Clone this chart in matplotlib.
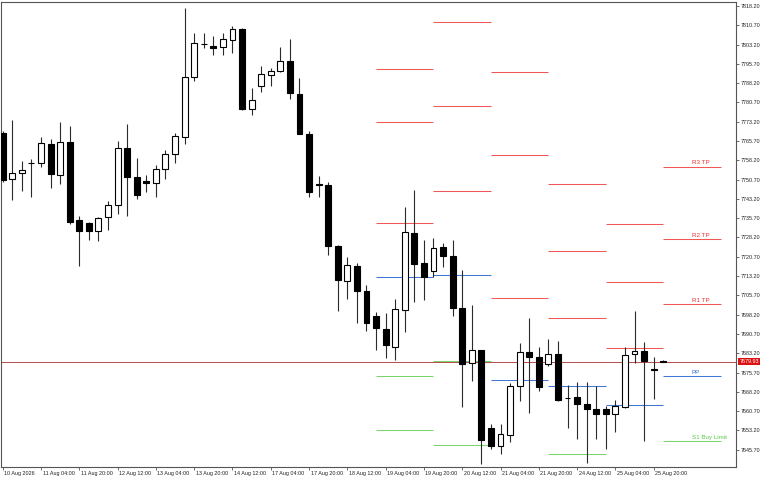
import matplotlib
matplotlib.use("Agg")
import matplotlib.pyplot as plt
import matplotlib.transforms as mtransforms
import numpy as np

plt.rcParams['font.family'] = ['Liberation Sans', 'DejaVu Sans']

# ---- data (4H candles, 10 Aug 2026 12:00 -> 26 Aug 2026 00:00) ----
opens = [7768.70, 7750.82, 7753.15, 7757.20, 7757.27, 7764.54, 7752.61, 7765.44, 7734.88, 7733.94,
         7730.60, 7736.04, 7740.94, 7762.87, 7751.83, 7750.16, 7749.26, 7754.71, 7760.65, 7767.15,
         7790.48, 7803.25, 7802.76, 7802.37, 7805.09, 7809.14, 7778.27, 7787.09, 7791.25, 7792.93,
         7796.93, 7784.10, 7768.55, 7749.11, 7748.60, 7725.00, 7711.39, 7717.11, 7707.39, 7697.67,
         7692.73, 7685.73, 7700.00, 7730.06, 7718.39, 7715.28, 7724.38, 7721.11, 7700.90, 7679.28,
         7684.45, 7654.01, 7647.24, 7651.52, 7670.34, 7683.79, 7681.85, 7678.89, 7682.89, 7665.60,
         7666.06, 7663.34, 7661.39, 7661.51, 7659.45, 7662.41, 7683.01, 7684.06, 7676.95, 7680.10]
highs = [7769.60, 7773.87, 7757.93, 7758.71, 7767.26, 7766.37, 7773.21, 7771.42, 7736.55, 7734.10,
         7736.28, 7742.26, 7765.59, 7772.32, 7759.22, 7752.49, 7756.38, 7762.21, 7768.94, 7817.30,
         7807.58, 7807.58, 7806.53, 7807.58, 7810.42, 7809.64, 7786.20, 7794.75, 7794.09, 7802.14,
         7805.37, 7790.20, 7769.60, 7752.10, 7749.89, 7725.10, 7720.73, 7718.16, 7709.72, 7699.34,
         7698.95, 7704.16, 7739.93, 7746.66, 7727.22, 7727.88, 7726.17, 7727.22, 7715.55, 7701.95,
         7684.60, 7655.56, 7655.56, 7671.50, 7687.05, 7696.77, 7685.73, 7688.61, 7687.95, 7670.84,
         7672.01, 7672.01, 7670.57, 7662.79, 7665.13, 7685.62, 7699.61, 7687.44, 7681.73, 7680.40]
lows = [7749.77, 7742.77, 7746.39, 7744.05, 7755.72, 7747.32, 7749.11, 7733.32, 7717.11, 7727.10,
        7726.83, 7731.11, 7737.44, 7736.67, 7743.04, 7745.88, 7743.82, 7750.93, 7757.04, 7764.54,
        7789.15, 7801.75, 7799.15, 7799.15, 7800.04, 7777.76, 7775.70, 7784.88, 7787.09, 7792.42,
        7782.16, 7768.31, 7744.05, 7744.05, 7721.39, 7699.61, 7704.16, 7695.06, 7692.03, 7684.45,
        7681.34, 7680.45, 7691.56, 7703.00, 7703.89, 7712.95, 7716.84, 7697.67, 7662.41, 7672.40,
        7640.13, 7645.84, 7644.01, 7648.68, 7664.74, 7659.84, 7668.63, 7678.23, 7664.74, 7654.01,
        7649.96, 7640.63, 7650.04, 7646.15, 7652.69, 7661.78, 7679.28, 7649.19, 7665.40, 7679.60]
closes = [7750.55, 7753.27, 7754.32, 7757.30, 7764.81, 7752.88, 7765.20, 7734.33, 7730.83, 7730.83,
          7735.77, 7740.71, 7762.87, 7751.60, 7744.83, 7749.26, 7754.71, 7760.54, 7767.65, 7790.48,
          7803.93, 7803.35, 7801.98, 7805.25, 7809.14, 7778.03, 7781.65, 7791.64, 7792.93, 7796.70,
          7784.37, 7768.55, 7745.88, 7748.49, 7725.00, 7711.67, 7717.38, 7707.51, 7694.83, 7692.81,
          7686.32, 7700.27, 7730.21, 7717.89, 7712.95, 7724.11, 7721.11, 7700.78, 7679.01, 7684.45,
          7649.46, 7647.24, 7651.67, 7670.34, 7683.56, 7681.85, 7670.18, 7682.78, 7665.01, 7665.70,
          7663.34, 7661.63, 7659.57, 7659.57, 7662.79, 7682.51, 7684.06, 7680.29, 7676.56, 7679.93]

x_tick_labels = ["10 Aug 2026", "11 Aug 04:00", "11 Aug 20:00", "12 Aug 12:00", "13 Aug 04:00",
                 "13 Aug 20:00", "14 Aug 12:00", "17 Aug 04:00", "17 Aug 20:00", "18 Aug 12:00",
                 "19 Aug 04:00", "19 Aug 20:00", "20 Aug 12:00", "21 Aug 04:00", "21 Aug 20:00",
                 "24 Aug 12:00", "25 Aug 04:00", "25 Aug 20:00"]
bars_per_label = 4

# daily pivot levels: first bar of each day, first bar of next day
pivot_start = [39, 45, 51, 57, 63, 69]
pivot_end = [45, 51, 57, 63, 69, 75]
r3 = [7793.6, 7812.1, 7792.5, 7748.9, 7733.3, 7755.7]
r2 = [7773.0, 7779.4, 7760.3, 7722.8, 7710.8, 7727.6]
r1 = [7733.9, 7746.1, 7704.8, 7696.8, 7685.1, 7702.2]
pp = [7713.0, 7713.5, 7672.7, 7670.3, 7662.9, 7674.2]
s1 = [7674.3, 7680.1, np.nan, 7644.1, np.nan, 7649.0]
s2 = [7653.4, 7647.4, np.nan, np.nan, np.nan, np.nan]
last_day_labels = ["R3 TP", "R2 TP", "R1 TP", "PP", "S1 Buy Limit"]

current_price = 7679.93
y_tick_start = 7645.70
y_tick_step = 7.5
y_tick_count = 24

# ---- styling ----
RED = '#f25757'
BLUE = '#3f78d6'
GREEN = '#7ad66c'
FS = 3.9

fig = plt.figure(figsize=(7.68, 4.8), dpi=100)
ax = fig.add_axes([1/768, 13/480, 735/768, 465/480])
ax.set_xlim(-0.18, 76.6)
ax.set_ylim(7638.96, 7819.75)

idx = np.arange(len(opens))
o = np.array(opens); c = np.array(closes); h = np.array(highs); l = np.array(lows)
up = c >= o

# current price line
ax.axhline(current_price, color='#b85050', lw=0.72, zorder=1)

# pivot lines
for levels, col in [(r3, RED), (r2, RED), (r1, RED), (pp, BLUE), (s1, GREEN), (s2, GREEN)]:
    for xs, xe, v in zip(pivot_start, pivot_end, levels):
        if not np.isnan(v):
            ax.hlines(v, xs, xe, color=col, lw=0.75, zorder=1)

# labels for last day
last = len(pivot_start) - 1
lab_cols = ['#ee3030', '#ee3030', '#ee3030', '#2f6ad6', '#5cc84c']
lab_vals = [r3[last], r2[last], r1[last], pp[last], s1[last]]
for txt, col, v in zip(last_day_labels, lab_cols, lab_vals):
    ax.annotate(txt, xy=(pivot_start[last] + 3, v), xytext=(0, 1.0), textcoords='offset points',
                ha='left', va='bottom', fontsize=4.5, color=col)

# candles
ax.vlines(idx, l, h, color='#2a2a2a', lw=0.8, zorder=2)
body_bottom = np.minimum(o, c)
body_h = np.abs(c - o)
ax.bar(idx, body_h, bottom=body_bottom, width=0.62,
       color=np.where(up, 'white', 'black'), edgecolor='black', linewidth=0.8, zorder=3)

# axes styling
for s in ax.spines.values():
    s.set_color('#555555')
    s.set_linewidth(0.8)

ax.set_xticks(idx[::bars_per_label][:len(x_tick_labels)])
ax.set_xticklabels(x_tick_labels, fontsize=FS, ha='left')
ax.tick_params(axis='x', direction='out', length=2.2, width=0.6, pad=0.8, color='#555555', labelcolor='#222222')
off = mtransforms.ScaledTranslation(1.5/100, 0, fig.dpi_scale_trans)
for lab in ax.get_xticklabels():
    lab.set_transform(lab.get_transform() + off)

yt = y_tick_start + y_tick_step * np.arange(y_tick_count)
ax.yaxis.tick_right()
ax.set_yticks(yt)
ax.set_yticklabels([f"{v:.2f}" for v in yt], fontsize=FS)
ax.tick_params(axis='y', direction='out', length=2.2, width=0.6, pad=1.0, color='#555555', labelcolor='#222222')

# current price tag
trans = mtransforms.blended_transform_factory(ax.transAxes, ax.transData) + \
    mtransforms.ScaledTranslation(3.5/100, 0, fig.dpi_scale_trans)
ax.text(1.0, current_price, f"{current_price:.2f}", transform=trans, ha='left', va='center',
        fontsize=FS, color='white', clip_on=False, zorder=5,
        bbox=dict(boxstyle='square,pad=0.25', fc='#dd1010', ec='none'))

fig.savefig('out.png', dpi=100)
